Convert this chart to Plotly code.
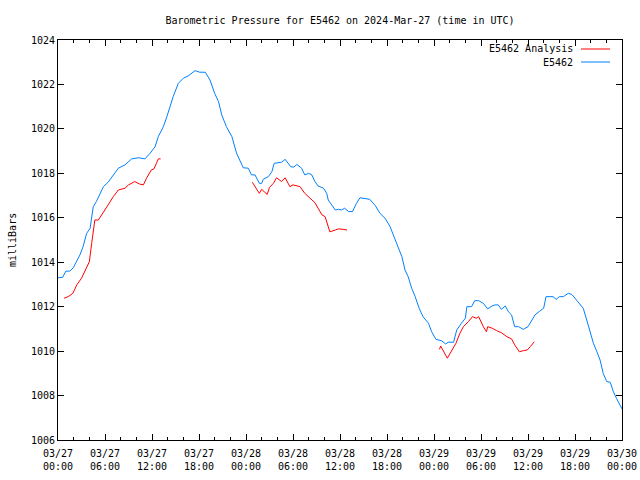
import plotly.graph_objects as go

tick_hours = [0, 6, 12, 18, 24, 30, 36, 42, 48, 54, 60, 66, 72]
tick_text = ["03/27<br>00:00", "03/27<br>06:00", "03/27<br>12:00", "03/27<br>18:00",
             "03/28<br>00:00", "03/28<br>06:00", "03/28<br>12:00", "03/28<br>18:00",
             "03/29<br>00:00", "03/29<br>06:00", "03/29<br>12:00", "03/29<br>18:00",
             "03/30<br>00:00"]
y_ticks = [1006, 1008, 1010, 1012, 1014, 1016, 1018, 1020, 1022, 1024]

blue_h = [0, 0.6, 1.0, 1.5, 1.95, 2.4, 2.8, 3.2, 3.66, 4.1, 4.5, 4.9, 5.36, 5.8, 6.4, 7.0, 7.7, 8.55,
          9.4, 10.25, 11.1, 11.75, 12.4, 12.8, 13.45, 13.9, 14.3, 14.7, 15.36, 16.0, 16.6, 17.5, 18.1,
          18.8, 19.4, 20.0, 20.5, 20.9, 21.5, 22.2, 22.8, 23.65, 24.3, 24.7, 25.15, 25.7, 26.0, 26.2,
          26.85, 27.3, 27.6, 28.1, 28.55, 29.0, 29.4, 29.7, 30.1, 30.5, 31.1, 31.5, 32.0, 32.4, 32.8,
          33.2, 33.9, 34.3, 34.5, 34.95, 35.4, 35.8, 36.2, 36.6, 37.1, 37.6, 38.1, 38.55, 39.8, 40.5,
          41.1, 41.75, 42.4, 42.8, 43.2, 43.9, 44.3, 44.7, 45.15, 45.6, 46.1, 46.6, 47.3, 47.7, 48.25,
          49.0, 49.5, 49.8, 50.5, 50.9, 51.5, 52.0, 52.2, 52.8, 53.2, 53.7, 54.3, 54.85, 55.4, 55.8,
          56.2, 56.6, 57.1, 57.5, 57.9, 58.3, 58.8, 59.4, 60.0, 60.5, 60.9, 61.5, 62.0, 62.3, 62.8,
          63.2, 63.6, 64.0, 64.5, 65.15, 65.6, 66.2, 66.6, 67.05, 67.5, 67.9, 68.35, 68.8, 69.2, 69.6,
          70.05, 70.5, 70.9, 71.3, 71.8, 72.0]
blue_p = [1013.3, 1013.32, 1013.6, 1013.6, 1013.75, 1014.07, 1014.33, 1014.7, 1015.3, 1015.53, 1016.5,
          1016.73, 1017.1, 1017.4, 1017.6, 1017.88, 1018.23, 1018.38, 1018.65, 1018.7, 1018.65, 1018.9,
          1019.2, 1019.65, 1020.1, 1020.55, 1021.0, 1021.45, 1022.05, 1022.28, 1022.38, 1022.62, 1022.55,
          1022.55, 1022.2, 1021.6, 1021.22, 1020.63, 1020.1, 1019.65, 1018.9, 1018.25, 1018.23, 1017.93,
          1017.93, 1017.55, 1017.55, 1017.73, 1017.85, 1018.07, 1018.45, 1018.48, 1018.5, 1018.63,
          1018.45, 1018.3, 1018.28, 1018.4, 1018.23, 1017.93, 1018.0, 1017.93, 1017.63, 1017.43,
          1017.33, 1017.1, 1016.8, 1016.58, 1016.35, 1016.38, 1016.35, 1016.43, 1016.28, 1016.28,
          1016.65, 1016.9, 1016.83, 1016.55, 1016.2, 1015.98, 1015.6, 1015.23, 1014.85, 1014.25,
          1013.65, 1013.35, 1012.83, 1012.45, 1011.93, 1011.55, 1011.25, 1010.87, 1010.53, 1010.46,
          1010.32, 1010.4, 1010.4, 1010.95, 1011.25, 1011.48, 1012.0, 1012.0, 1012.27, 1012.27, 1012.15,
          1011.9, 1012.03, 1012.08, 1012.08, 1011.88, 1012.03, 1011.77, 1011.63, 1011.1, 1011.1,
          1010.98, 1011.1, 1011.4, 1011.63, 1011.8, 1011.93, 1012.45, 1012.45, 1012.45, 1012.33,
          1012.45, 1012.45, 1012.6, 1012.55, 1012.3, 1012.12, 1011.93, 1011.4, 1010.87, 1010.35,
          1009.97, 1009.6, 1009.0, 1008.63, 1008.6, 1008.17, 1007.87, 1007.5, 1007.4]

red_h = [0.77, 1.3, 1.9, 2.4, 3.0, 3.45, 4.0, 4.3, 4.7, 5.15, 5.8, 6.4, 7.06, 7.7, 8.55, 9.0, 9.8, 10.4,
         10.9, 11.3, 11.9, 12.25, 12.6, 12.8, 13.1, None,
         24.8, 25.15, 25.7, 26.0, 26.7, 27.0, 27.5, 27.9, 28.55, 29.0, 29.6, 30.0, 30.9, 31.5, 32.2,
         32.8, 33.2, 33.7, 34.1, 34.4, 34.7, 35.4, 35.8, 36.4, 36.9, None,
         48.7, 48.85, 49.7, 50.3, 50.8, 51.3, 51.75, 52.4, 52.9, 53.4, 53.7, 54.3, 54.7, 54.85, 55.5,
         56.0, 56.6, 57.3, 57.9, 58.3, 58.9, 59.4, 59.9, 60.3, 60.8]
red_p = [1012.38, 1012.45, 1012.6, 1012.98, 1013.28, 1013.65, 1014.02, 1014.85, 1015.9, 1015.9, 1016.28,
         1016.58, 1016.95, 1017.25, 1017.33, 1017.48, 1017.63, 1017.52, 1017.48, 1017.78, 1018.15,
         1018.2, 1018.48, 1018.65, 1018.65, None,
         1017.6, 1017.4, 1017.1, 1017.28, 1017.05, 1017.37, 1017.55, 1017.8, 1017.63, 1017.8, 1017.4,
         1017.48, 1017.4, 1017.1, 1016.88, 1016.68, 1016.43, 1016.13, 1016.05, 1015.68, 1015.37,
         1015.45, 1015.5, 1015.48, 1015.45, None,
         1010.08, 1010.23, 1009.68, 1010.05, 1010.35, 1010.8, 1011.1, 1011.33, 1011.55, 1011.48,
         1011.55, 1011.1, 1010.87, 1011.1, 1011.02, 1010.92, 1010.83, 1010.65, 1010.55, 1010.28,
         1009.97, 1010.02, 1010.05, 1010.2, 1010.42]

RED = "#ff0000"
BLUE = "#0080ff"
FONT = "DejaVu Sans Mono"

FIG_W, FIG_H = 640, 480

fig = go.Figure()
fig.add_trace(go.Scatter(x=red_h, y=red_p, mode="lines", name="E5462 Analysis",
                         line=dict(color=RED, width=1), connectgaps=False))
fig.add_trace(go.Scatter(x=blue_h, y=blue_p, mode="lines", name="E5462",
                         line=dict(color=BLUE, width=1)))

axis_common = dict(showgrid=False, zeroline=False, showline=True, linecolor="black", linewidth=1,
                   mirror="allticks", ticks="inside", tickcolor="black", ticklen=6,
                   automargin=False,
                   tickfont=dict(family=FONT, size=10, color="black"))

fig.update_layout(
    width=FIG_W, height=FIG_H,
    margin=dict(l=58, r=18, t=40, b=40, autoexpand=False),
    paper_bgcolor="white", plot_bgcolor="white",
    showlegend=False,
    font=dict(family=FONT, size=10, color="black"),
    title=dict(text="Barometric Pressure for E5462 on 2024-Mar-27 (time in UTC)",
               xref="paper", x=0.5, xanchor="center", y=1 - 20 / FIG_H, yanchor="middle",
               font=dict(family=FONT, size=10, color="black")),
    xaxis=dict(range=[0, 72], tickmode="array", tickvals=tick_hours, ticktext=tick_text,
               minor=dict(tickvals=list(range(0, 73, 2)), ticks="inside", ticklen=3,
                          tickcolor="black"),
               ticklabelstandoff=4,
               **axis_common),
    yaxis=dict(range=[1006, 1024], tickmode="array", tickvals=y_ticks,
               ticktext=[str(v) for v in y_ticks], **axis_common),
)

fig.add_annotation(text="milliBars", xref="paper", yref="paper", x=(12 - 58) / 564, y=0.5,
                   textangle=-90, showarrow=False, xanchor="center", yanchor="middle",
                   font=dict(family=FONT, size=10, color="black"))

legend_items = [("E5462 Analysis", RED, 49), ("E5462", BLUE, 62)]
for label, col, py in legend_items:
    yp = (440 - py) / 400
    fig.add_annotation(text=label, xref="paper", yref="paper", x=(575 - 58) / 564, y=yp,
                       xanchor="right", yanchor="middle", showarrow=False,
                       font=dict(family=FONT, size=10, color="black"))
    fig.add_shape(type="line", xref="paper", yref="paper", x0=(581 - 58) / 564,
                  x1=(610 - 58) / 564, y0=yp, y1=yp, line=dict(color=col, width=1))

fig.write_html("out.html", default_width=f"{FIG_W}px", default_height=f"{FIG_H}px",
               config={"displayModeBar": False, "staticPlot": True},
               post_script="document.body.style.margin='0';document.body.style.overflow='hidden';")
